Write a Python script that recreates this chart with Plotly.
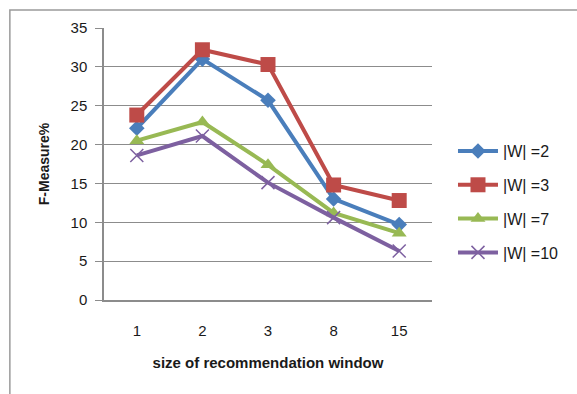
import plotly.graph_objects as go

# Recommendation window sizes (categorical axis)
window_sizes = ["1", "2", "3", "8", "15"]

# F-Measure (%) per history window size |W|
fm_w2 = [22.1, 31.0, 25.7, 13.0, 9.7]
fm_w3 = [23.8, 32.2, 30.3, 14.8, 12.8]
fm_w7 = [20.5, 22.9, 17.4, 11.2, 8.6]
fm_w10 = [18.6, 21.1, 15.1, 10.6, 6.3]

series_names = ["|W| =2", "|W| =3", "|W| =7", "|W| =10"]
y_ticks = [0, 5, 10, 15, 20, 25, 30, 35]

colors = ["#4A7EBB", "#BE4B48", "#98B954", "#7D60A0"]
symbols = ["diamond", "square", "triangle-up", "x-thin"]
sizes = [12, 15, 13, 13]

fig = go.Figure()
for i, (name, vals, col, sym, sz) in enumerate(zip(
        series_names, [fm_w2, fm_w3, fm_w7, fm_w10], colors, symbols, sizes)):
    marker = dict(symbol=sym, size=sz, color=col)
    if sym == "x-thin":
        marker["line"] = dict(color=col, width=1.5)
    fig.add_trace(go.Scatter(
        x=window_sizes, y=vals, name=name, mode="lines+markers",
        legendgroup=f"g{i}",
        line=dict(color=col, width=4), marker=marker,
    ))

font_family = "Liberation Sans, Arial, sans-serif"
txt = "#1a1a1a"

fig.update_layout(
    width=577, height=394,
    margin=dict(l=104, r=145, t=28, b=94),
    paper_bgcolor="white", plot_bgcolor="white",
    font=dict(family=font_family, size=15, color=txt),
    showlegend=True,
    legend=dict(x=1.064, y=0.36, xanchor="left", yanchor="middle",
                font=dict(size=16, color=txt), tracegroupgap=10,
                itemwidth=40, bgcolor="rgba(0,0,0,0)"),
    xaxis=dict(
        type="category", range=[-0.5, 4.5],
        showgrid=False, showline=True, linecolor="#8C8C8C", linewidth=1.5,
        ticks="", tickfont=dict(size=15, color=txt), ticklabelstandoff=16,
        title=dict(text="<b>size of recommendation window</b>",
                   font=dict(size=15, color=txt), standoff=20),
    ),
    yaxis=dict(
        range=[0, 35], tickvals=y_ticks,
        showgrid=True, gridcolor="#8C8C8C", gridwidth=1.2,
        showline=True, linecolor="#8C8C8C", linewidth=1.5,
        ticks="outside", ticklen=7, tickcolor="#8C8C8C",
        tickfont=dict(size=15, color=txt), ticklabelstandoff=5,
        zeroline=False,
        title=dict(text="<b>F-Measure%</b>", font=dict(size=14, color=txt),
                   standoff=18),
    ),
    shapes=[dict(type="rect", xref="paper", yref="paper",
                 x0=-0.287, x1=1.6, y0=-0.5, y1=1.066,
                 line=dict(color="#9A9A9A", width=1.5), layer="below")],
)

fig.write_html("out.html")
